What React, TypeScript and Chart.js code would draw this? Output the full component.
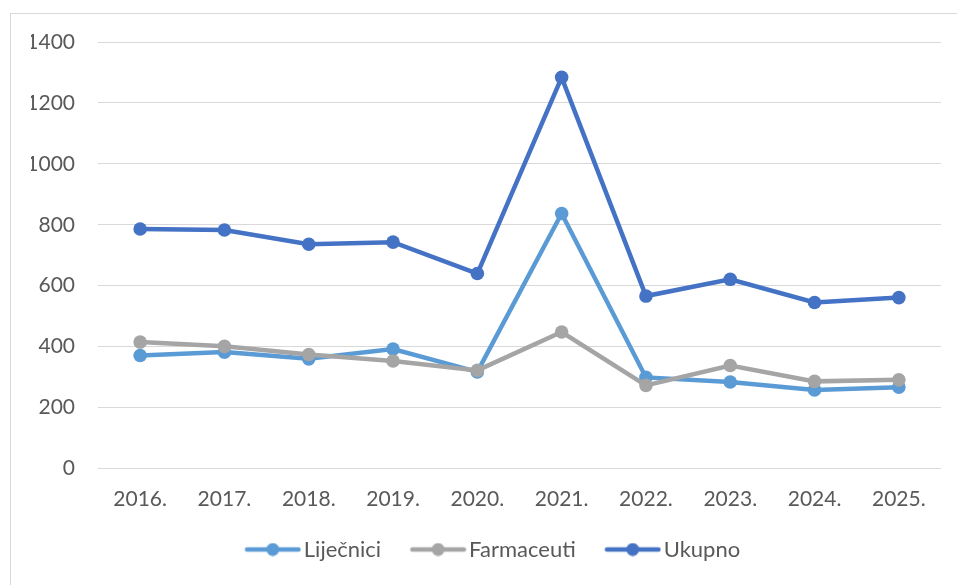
import React, { useEffect, useRef } from "react";
import { Chart, registerables } from "chart.js";

Chart.register(...registerables);

const categories = ["2016.", "2017.", "2018.", "2019.", "2020.", "2021.", "2022.", "2023.", "2024.", "2025."];
const lijecnici = [371, 382, 360, 392, 317, 837, 299, 284, 258, 267];
const farmaceuti = [415, 401, 374, 353, 322, 448, 273, 338, 286, 291];
const ukupno = [786, 783, 736, 743, 640, 1284, 566, 621, 545, 561];
const yTicks = [0, 200, 400, 600, 800, 1000, 1200, 1400];

const FONT = "Lato, 'Open Sans', sans-serif";
const TEXT = "#595959";
const FS = 21;
const LFS = 22;

function legendIcon(color: string): HTMLCanvasElement {
  const c = document.createElement("canvas");
  c.width = 78;
  c.height = 14;
  const ctx = c.getContext("2d")!;
  ctx.strokeStyle = color;
  ctx.lineWidth = 4.5;
  ctx.lineCap = "round";
  ctx.beginPath();
  ctx.moveTo(23.75, 7);
  ctx.lineTo(75.25, 7);
  ctx.stroke();
  ctx.fillStyle = color;
  ctx.beginPath();
  ctx.arc(49.5, 7, 6.5, 0, Math.PI * 2);
  ctx.fill();
  return c;
}

export default function App() {
  const ref = useRef<HTMLCanvasElement>(null);
  useEffect(() => {
    document.body.style.overflow = "hidden";
    const mk = (label: string, data: number[], color: string, order: number) => ({
      label,
      data,
      borderColor: color,
      backgroundColor: color,
      borderWidth: 4.5,
      pointRadius: 6.8,
      pointHoverRadius: 6.8,
      pointBorderWidth: 0,
      pointBackgroundColor: color,
      pointStyle: "circle",
      tension: 0,
      order,
    });
    const chart = new Chart(ref.current!, {
      type: "line",
      data: {
        labels: categories,
        datasets: [
          mk("Liječnici", lijecnici, "#5B9BD5", 2),
          mk("Farmaceuti", farmaceuti, "#A5A5A5", 1),
          mk("Ukupno", ukupno, "#4472C4", 0),
        ] as any,
      },
      options: {
        animation: false,
        responsive: false,
        maintainAspectRatio: false,
        layout: { padding: { left: 20, right: 16, top: 28, bottom: 14.5 } },
        plugins: {
          tooltip: { enabled: false },
          legend: {
            position: "bottom",
            labels: {
              usePointStyle: true,
              pointStyleWidth: 61,
              padding: 16,
              color: TEXT,
              font: { family: FONT, size: LFS },
              generateLabels: (ch: any) =>
                ch.data.datasets.map((ds: any, i: number) => ({
                  text: ds.label,
                  fillStyle: ds.borderColor,
                  strokeStyle: ds.borderColor,
                  lineWidth: 0,
                  pointStyle: legendIcon(ds.borderColor),
                  hidden: false,
                  datasetIndex: i,
                  fontColor: TEXT,
                })),
            },
          },
        },
        scales: {
          x: {
            offset: true,
            grid: { display: false, drawTicks: false },
            border: { display: false },
            afterFit: (s: any) => {
              s.height = 54;
            },
            ticks: { color: TEXT, font: { family: FONT, size: FS }, padding: 18, maxRotation: 0 },
          },
          y: {
            min: 0,
            max: 1400,
            afterBuildTicks: (s: any) => {
              s.ticks = yTicks.map((v) => ({ value: v }));
            },
            afterFit: (s: any) => {
              s.width = 67;
              s.paddingTop = 0;
              s.paddingBottom = 0;
            },
            grid: { color: "#d9d9d9", lineWidth: 1, drawTicks: false },
            border: { display: false },
            ticks: {
              color: TEXT,
              font: { family: FONT, size: FS },
              padding: 23,
              callback: (v: any) => String(v),
            },
          },
        },
      },
    });
    return () => chart.destroy();
  }, []);
  return (
    <div
      style={{
        position: "absolute",
        left: 10,
        top: 13,
        width: 947,
        height: 572,
        borderLeft: "1px solid #d9d9d9",
        borderTop: "1px solid #d9d9d9",
        background: "#fff",
      }}
    >
      <canvas ref={ref} width={946} height={571} style={{ display: "block" }} />
    </div>
  );
}
